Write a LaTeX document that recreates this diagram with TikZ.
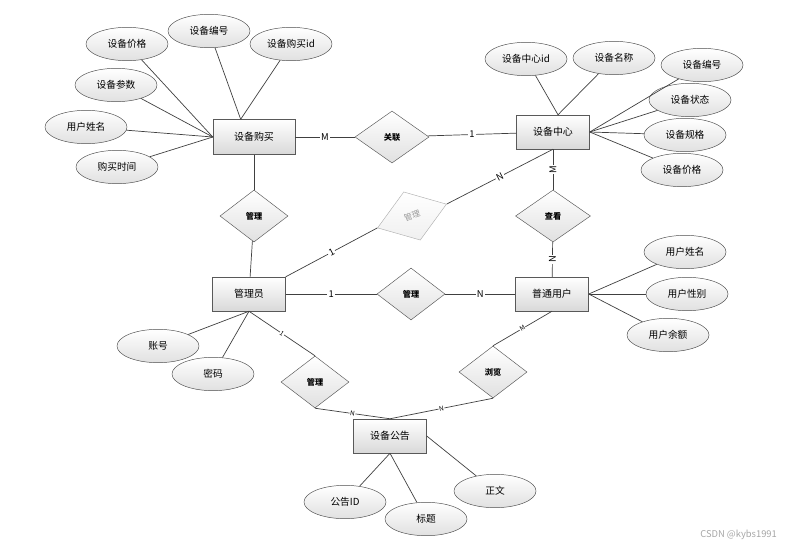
\documentclass[tikz,border=0pt]{standalone}
\usepackage{fontspec}
\setmainfont{Noto Sans CJK SC}
\usetikzlibrary{
    shapes.geometric,
    shadows
}

\begin{document}
\begin{tikzpicture}[
        x=0.03cm, y=-0.03cm,
        entity/.style={
            rectangle,
            draw=black!65,
            top color=white,
            bottom color=black!15,
            minimum width=2.19cm,
            minimum height=1.02cm,
            font=\fontsize{8.5}{10}\selectfont,
            drop shadow={opacity=0.25, shadow xshift=0.8pt, shadow yshift=-0.8pt}
        },
        attr/.style={
            ellipse,
            draw=black!70,
            top color=white,
            bottom color=black!12,
            minimum width=2.46cm,
            minimum height=1.0cm,
            inner sep=0pt,
            font=\fontsize{8.3}{10}\selectfont
        },
        rel/.style={
            diamond,
            draw=black!65,
            top color=white,
            bottom color=black!12,
            minimum width=2.04cm,
            minimum height=1.56cm,
            inner sep=0pt,
            font=\fontsize{7}{8}\selectfont\bfseries
        },
        link/.style={
            draw=black!75,
            line width=0.6pt
        },
        card/.style={
            fill=white,
            inner sep=1pt,
            font=\fontsize{8}{9}\selectfont
        },
        along/.style={card, sloped},
        smallcard/.style={along, inner sep=0.5pt, font=\fontsize{5.5}{6}\selectfont}
    ]

    \useasboundingbox (0,0) rectangle (795,549);

    \node[entity, minimum width=2.46cm, minimum height=1.05cm] (buy) at (254,137) {设备购买};
    \node[entity] (center) at (553,132) {设备中心};
    \node[entity] (admin) at (249,294) {管理员};
    \node[entity] (user) at (552,294) {普通用户};
    \node[entity] (notice) at (390,436) {设备公告};

    \node[rel, minimum width=2.22cm] (assoc) at (392,137) {关联};
    \node[rel] (mgbuy) at (254,216) {管理};
    \node[rel, rotate=19, minimum width=2.19cm, minimum height=1.53cm,
          draw=black!30, bottom color=black!6, text=black!40,
          font=\fontsize{7}{8}\selectfont] (mgcenter) at (412,216) {管理};
    \node[rel, minimum width=2.25cm] (view) at (553,216) {查看};
    \node[rel] (mguser) at (411,294) {管理};
    \node[rel] (mgnotice) at (315,382) {管理};
    \node[rel] (browse) at (493,372) {浏览};

    \node[attr] (bprice) at (127,44) {设备价格};
    \node[attr] (bno) at (209,31) {设备编号};
    \node[attr] (bid) at (291,44) {设备购买id};
    \node[attr] (bparam) at (116,85) {设备参数};
    \node[attr] (bname) at (86,127) {用户姓名};
    \node[attr] (btime) at (117,167) {购买时间};

    \node[attr] (cid) at (526,59) {设备中心id};
    \node[attr] (cname) at (614,58) {设备名称};
    \node[attr] (cno) at (702,65) {设备编号};
    \node[attr] (cstate) at (690,100) {设备状态};
    \node[attr] (cspec) at (685,135) {设备规格};
    \node[attr] (cprice) at (682,170) {设备价格};

    \node[attr] (uname) at (685,252) {用户姓名};
    \node[attr] (usex) at (687,294) {用户性别};
    \node[attr] (ubal) at (668,335) {用户余额};

    \node[attr] (acct) at (158,346) {账号};
    \node[attr] (pwd) at (213,374) {密码};

    \node[attr] (nid) at (345,502) {公告ID};
    \node[attr] (ntitle) at (426,519) {标题};
    \node[attr] (nbody) at (495,491) {正文};

    \foreach \a in {bprice, bparam, bname, btime}
        \draw[link] (\a) -- (buy.west);
    \foreach \a in {bno, bid}
        \draw[link] (\a) -- ([xshift=-0.4cm]buy.north);
    \foreach \a in {cid, cname}
        \draw[link] (\a) -- ([xshift=0.15cm]center.north);
    \foreach \a in {cno, cstate, cspec, cprice}
        \draw[link] (\a) -- (center.east);
    \foreach \a in {uname, usex, ubal}
        \draw[link] (\a) -- (user.east);
    \foreach \a in {acct, pwd}
        \draw[link] (\a) -- (admin.south);
    \foreach \a in {nid, ntitle}
        \draw[link] (\a) -- (notice.south);
    \draw[link] (nbody) -- (notice.east);

    \draw[link] (buy) -- node[card] {M} (assoc);
    \draw[link] (assoc) -- node[card] {1} (center);
    \draw[link] (buy) -- (mgbuy);
    \draw[link] (mgbuy) -- (admin);
    \draw[link] (admin.north east) -- node[along] {1} (mgcenter.west);
    \draw[link] (mgcenter.east) -- node[along] {N} (center.south);
    \draw[link] (center) -- node[card, rotate=90] {M} (view);
    \draw[link] (view) -- node[card, rotate=90] {N} (user);
    \draw[link] (admin) -- node[card] {1} (mguser);
    \draw[link] (mguser) -- node[card] {N} (user);
    \draw[link] (admin.south) -- node[smallcard] {1} (mgnotice.north);
    \draw[link] (mgnotice.south) -- node[smallcard] {N} (notice.north);
    \draw[link] (browse.north) -- node[smallcard] {M} (user.south);
    \draw[link] (browse.south) -- node[smallcard] {N} (notice.north);

    \node[anchor=east, text=black!35, font=\fontsize{8}{9}\selectfont] (mark) at (781,535) {CSDN @kybs1991};

\end{tikzpicture}
\end{document}
